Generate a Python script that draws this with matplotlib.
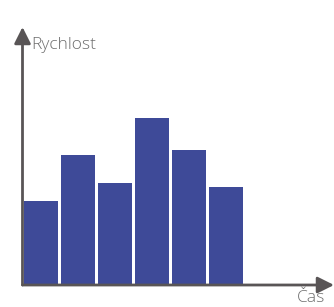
import matplotlib
matplotlib.use("Agg")
import matplotlib.pyplot as plt
from matplotlib.patches import FancyArrowPatch

# bar heights (speed, arbitrary units) over time slots
slots = [0, 1, 2, 3, 4, 5]
speed = [84, 130, 102, 167, 135, 98]

BAR = "#3e4a98"
AXC = "#595556"
TXT = "#6e6e6e"

W, H = 334, 307
fig = plt.figure(figsize=(W / 100, H / 100), dpi=100)
fig.patch.set_facecolor("white")

# axes: origin at pixel (22.5, 285), top at y=27, right edge of figure
x0, y0, ytop = 22.5, 285, 27
ax = fig.add_axes([x0 / W, (H - y0) / H, (W - x0) / W, (y0 - ytop) / H])
ax.bar([s + 0.03 for s in slots], speed, width=0.92, align="edge",
       color=BAR, zorder=2)
ax.set_xlim(0, (W - x0) / 37)
ax.set_ylim(0, y0 - ytop)
ax.axis("off")

# axis arrows
for start, end in [((0, 0), (1, 0)), ((0, 0), (0, 1))]:
    ax.add_patch(FancyArrowPatch(start, end, transform=ax.transAxes,
                                 arrowstyle="-|>,head_length=0.9,head_width=0.45",
                                 mutation_scale=11, color=AXC, lw=2.0,
                                 shrinkA=0, shrinkB=0, clip_on=False, zorder=3))

fig.text(31 / W, 1 - 45 / H, "Rychlost", family="Open Sans", weight="light",
         fontsize=12.5, color=TXT, ha="left", va="center")
fig.text(297 / W, 1 - 298 / H, "Čas", family="Open Sans", weight="light",
         fontsize=12.5, color=TXT, ha="left", va="center")

fig.savefig("out.png", dpi=100)
